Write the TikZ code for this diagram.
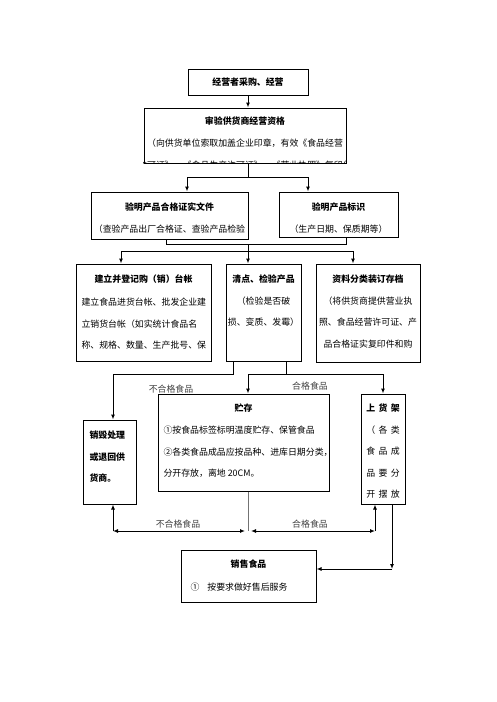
\documentclass[tikz,border=0pt]{standalone}
\usepackage{fontspec}
\setmainfont{Noto Sans CJK SC}
\usetikzlibrary{arrows.meta,positioning}
\newcommand\fs{\fontsize{8.9pt}{21.5pt}\selectfont}
\newcommand\wsp{\hspace{3.4pt}}
\tikzset{box/.style={draw, inner sep=0pt},
         txt/.style={inner sep=0pt, font=\fs, align=center, anchor=north},
         lbl/.style={inner sep=0pt, font=\fs, text=black!75},
         arr/.style={-{Latex[length=5pt,width=4pt]}},
         darr/.style={{Latex[length=5pt,width=4pt]}-{Latex[length=5pt,width=4pt]}}}

\begin{document}
\begin{tikzpicture}[x=1pt,y=-1pt,line width=1pt]
  \useasboundingbox (0,0) rectangle (496,702);
  % boxes
  \node[box, minimum width=120pt, minimum height=26pt] (b1) at (248,82) {\fs\bfseries 经营者采购、经营};
  \node[box, minimum width=202pt, minimum height=55pt] (b2) at (245,135.5) {};
  \node[box, minimum width=157pt, minimum height=47pt] (b3) at (169.5,215.5) {};
  \node[box, minimum width=119pt, minimum height=45pt] (b4) at (338.5,214.5) {};
  \node[box, minimum width=135pt, minimum height=97pt] (b5) at (143.5,312.5) {};
  \node[box, minimum width=75pt,  minimum height=97pt] (b6) at (263.5,312.5) {};
  \node[box, minimum width=104pt, minimum height=98pt] (b7) at (368,313) {};
  \node[box, minimum width=53pt,  minimum height=84pt] (b8) at (109.5,462) {};
  \node[box, minimum width=171pt, minimum height=97pt] (b9) at (243.5,442.5) {};
  \node[box, minimum width=44pt,  minimum height=110pt] (b10) at (383,449) {};
  \node[box, minimum width=135pt, minimum height=52pt] (b11) at (248.5,576) {};
  % texts
  \begin{scope}
    \clip (b2.south west) rectangle (b2.north east);
    \node[txt] (t2) at (245,116.5) {\bfseries 审验供货商经营资格\\
      （向供货单位索取加盖企业印章，有效《食品经营\\[0.8pt]
      许可证》、《食品生产许可证》、《营业执照》复印件};
  \end{scope}
  \node[txt] (t3) at (169.5,202.5) {\bfseries 验明产品合格证实文件\\（查验产品出厂合格证、查验产品检验};
  \node[txt] (t4) at (338.5,202.5) {\bfseries 验明产品标识\\（生产日期、保质期等）};
  \node[txt] (t5) at (143.5,274.5) {\bfseries 建立并登记购（销）台帐};
  \node[txt, align=left, anchor=north west] (t5b) at (81,297.5) {建立食品进货台帐、批发企业建\\
    立销货台帐（如实统计食品名\\称、规格、数量、生产批号、保};
  \node[txt] (t6) at (263.5,274.5) {\bfseries 清点、检验产品\\（检验是否破\\损、变质、发霉）};
  \node[txt] (t7) at (368,274.5) {\bfseries 资料分类装订存档\\（将供货商提供营业执\\照、食品经营许可证、产\\品合格证实复印件和购};
  \node[txt, align=left, anchor=north west] (t8) at (89,430.5) {\bfseries 销毁处理\\\bfseries 或退回供\\\bfseries 货商。};
  \node[txt] (t9) at (243.5,403.5) {\bfseries 贮存};
  \node[txt, align=left, anchor=north west] (t9b) at (163,425.5) {①按食品标签标明温度贮存、保管食品\\
    ②各类食品成品应按品种、进库日期分类，\\分开存放，离地 20CM。};
  \node[txt] (t10) at (383,403.5) {\bfseries 上\wsp 货\wsp 架\\（\wsp 各\wsp 类\\食\wsp 品\wsp 成\\品\wsp 要\wsp 分\\开\wsp 摆\wsp 放};
  \node[txt] (t11) at (248.5,559.5) {\bfseries 销售食品};
  \node[txt, anchor=north west] (t11b) at (190,582.5) {①\hspace{8pt}按要求做好售后服务};
  % labels
  \node[lbl] (l1) at (171,389) {不合格食品};
  \node[lbl] (l2) at (310,386) {合格食品};
  \node[lbl] (l3) at (178,524) {不合格食品};
  \node[lbl] (l4) at (310,524) {合格食品};
  % top connectors
  \coordinate (c1) at (248,177);
  \coordinate (c1l) at (187,177);
  \coordinate (c1r) at (308,177);
  \draw[arr] (b1.south) -- (b1.south |- b2.north);
  \draw (c1 |- b2.south) -- (c1);
  \draw (c1l) -- (c1r);
  \draw[arr] (c1l) -- (c1l |- b3.north);
  \draw[arr] (c1r) -- (c1r |- b4.north);
  \coordinate (c2l) at (166,244);
  \coordinate (c2r) at (346,244);
  \coordinate (c3) at (248,251);
  \coordinate (c3l) at (121,251);
  \coordinate (c3r) at (353,251);
  \draw (c2l |- b3.south) -- (c2l) -- (c2r) -- (c2r |- b4.south);
  \draw (c3 |- c2l) -- (c3);
  \draw (c3l) -- (c3r);
  \draw[arr] (c3l) -- (c3l |- b5.north);
  \draw[arr] (c3) -- (c3 |- b6.north);
  \draw[arr] (c3r) -- (c3r |- b7.north);
  % from b6
  \coordinate (c4) at (233,374);
  \coordinate (c4l) at (113,374);
  \coordinate (c5) at (286,374);
  \coordinate (c5l) at (248,374);
  \coordinate (c5r) at (383,374);
  \draw[arr] (c4 |- b6.south) -- (c4) -- (c4l) -- (c4l |- b8.north);
  \draw (c5 |- b6.south) -- (c5);
  \draw (c5l) -- (c5r);
  \draw[arr] (c5l) -- (c5l |- b9.north);
  \draw[arr] (c5r) -- (c5r |- b10.north);
  % bottom
  \coordinate (c6) at (248,531);
  \coordinate (c6a) at (245,531);
  \coordinate (c6b) at (251,531);
  \coordinate (c6l) at (113,531);
  \coordinate (c6r) at (375,531);
  \draw[black!55] (c6 |- b9.south) -- (c6);
  \draw[darr] (c6a) -- (c6l);
  \draw[darr] (c6b) -- (c6r);
  \draw[arr] (c6l) -- (c6l |- b8.south);
  \draw[arr] (c6r) -- (c6r |- b10.south);
  \coordinate (c7) at (392,569);
  \draw[arr] (c7 |- b10.south) -- (c7);
  \draw[arr] (c7) -- (c7 -| b11.east);
\end{tikzpicture}
\end{document}
